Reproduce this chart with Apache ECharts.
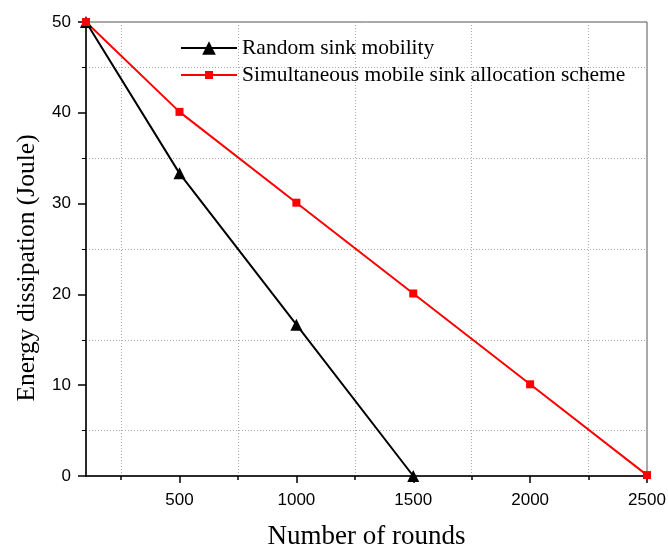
<!DOCTYPE html>
<html>
<head>
<meta charset="utf-8">
<script src="https://cdn.jsdelivr.net/npm/echarts@6/dist/echarts.min.js"></script>
<style>
  html, body { margin: 0; padding: 0; background: #fff; }
  #main { width: 668px; height: 552px; }
</style>
</head>
<body>
<div id="main"></div>
<script>
// data
var rounds = [100, 500, 1000, 1500, 2000, 2500];
var randomSink = [50, 33.33, 16.67, 0];
var simultaneous = [50, 40.1, 30.1, 20.1, 10.1, 0.1];
var xMajor = [500, 1000, 1500, 2000, 2500];
var xMinor = [250, 750, 1250, 1750, 2250];
var seriesNames = ["Random sink mobility", "Simultaneous mobile sink allocation scheme"];

function pairs(xs, ys) {
  var out = [];
  for (var i = 0; i < ys.length; i++) out.push([xs[i], ys[i]]);
  return out;
}

var legendText = { fontFamily: "Liberation Serif", fontSize: 21.5, color: "#000" };
var gridLine = { color: "#aaa", type: [1, 2], width: 1 };

var chart = echarts.init(document.getElementById("main"));
chart.setOption({
  animation: false,
  backgroundColor: "#fff",
  grid: {
    left: 86, right: 21, top: 22, bottom: 76,
    outerBoundsMode: "none",
    show: true, borderColor: "#555", borderWidth: 1
  },
  // two legends so the triangle and the square keep their own sizes
  legend: [{
    left: 175, top: 32,
    itemWidth: 56, itemHeight: 17,
    textStyle: legendText,
    data: [seriesNames[0]]
  }, {
    left: 175, top: 59,
    itemWidth: 56, itemHeight: 10,
    textStyle: legendText,
    data: [seriesNames[1]]
  }],
  xAxis: [{
    type: "value", min: 100, max: 2500,
    name: "Number of rounds", nameLocation: "middle", nameGap: 47,
    nameTextStyle: { fontFamily: "Liberation Serif", fontSize: 27, color: "#000" },
    axisLine: { lineStyle: { color: "#000", width: 1.5 } },
    axisTick: { customValues: xMajor, length: 7, lineStyle: { color: "#000", width: 1.5 } },
    axisLabel: {
      customValues: xMajor, fontFamily: "Liberation Sans", fontSize: 17, color: "#000", margin: 16,
      formatter: function (v) { return String(v); }
    },
    splitLine: { show: false }
  }, {
    type: "value", min: 100, max: 2500, position: "bottom",
    axisLine: { show: false },
    axisTick: { customValues: xMinor, length: 4, lineStyle: { color: "#000", width: 1.5 } },
    axisLabel: { show: false },
    splitLine: { show: true, lineStyle: gridLine }
  }],
  yAxis: {
    type: "value", min: 0, max: 50, interval: 10,
    name: "Energy dissipation (Joule)", nameLocation: "middle", nameGap: 46,
    // right padding (in the rotated text frame) moves the title a bit down, as in the original
    nameTextStyle: { fontFamily: "Liberation Serif", fontSize: 25.5, color: "#000", padding: [0, 38, 0, 0] },
    axisLine: { show: true, lineStyle: { color: "#000", width: 1.5 } },
    axisTick: { show: true, length: 8, lineStyle: { color: "#000", width: 1.5 } },
    axisLabel: { fontFamily: "Liberation Sans", fontSize: 17, color: "#000", margin: 15 },
    minorTick: { show: true, splitNumber: 2, length: 4, lineStyle: { color: "#000" } },
    splitLine: { show: false },
    minorSplitLine: { show: true, lineStyle: gridLine }
  },
  series: [{
    name: seriesNames[0],
    type: "line",
    xAxisIndex: 0,
    data: pairs(rounds, randomSink),
    symbol: "triangle", symbolSize: 12,
    itemStyle: { color: "#000" },
    lineStyle: { color: "#000", width: 2 }
  }, {
    name: seriesNames[1],
    type: "line",
    xAxisIndex: 0,
    data: pairs(rounds, simultaneous),
    symbol: "rect", symbolSize: 8,
    itemStyle: { color: "#ff0000" },
    lineStyle: { color: "#ff0000", width: 2 }
  }]
});
</script>
</body>
</html>
